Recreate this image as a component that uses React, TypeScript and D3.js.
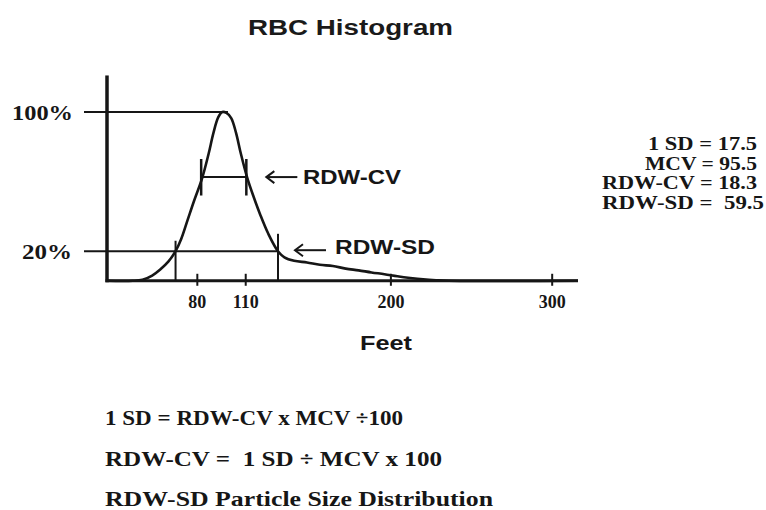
import React, { useEffect, useRef } from 'react';
import * as d3 from 'd3';

// histogram curve: size (fL) vs relative height (%)
const curveSize = [24, 40, 46, 52, 57, 62, 66.5, 70, 74, 78, 83, 87, 90, 93, 95.5, 98, 101, 104, 107, 111, 115, 119, 124, 130, 134, 140, 148, 156, 164, 172, 180, 188, 196, 204, 212, 220, 228, 236, 316];
const curvePct = [3, 3, 3.6, 6, 9.5, 14, 20, 27, 38, 49, 62, 76, 88, 97, 100, 99.5, 96.5, 88, 76, 62, 51, 41, 30, 20, 16.5, 14.5, 13.5, 12.2, 11.5, 10, 9, 7.8, 6.8, 5.6, 4.6, 3.8, 3.3, 3, 3];

const xTicks = [80, 110, 200, 300];
const yTicks = [{ value: 100, label: '100%', end: 99 }, { value: 20, label: '20%', end: 130 }];

const mcv = 95.5;
const cvLevel = 62.6;
const cvLeft = 83;
const cvRight = 111;
const sdLeft = 66.5;
const sdRight = 130;

const stats = [
    { text: '1 SD = 17.5', left: 648, width: 109 },
    { text: 'MCV = 95.5', left: 645, width: 112 },
    { text: 'RDW-CV = 18.3', left: 602, width: 155 },
    { text: 'RDW-SD =\u00a0 59.5', left: 602, width: 162 },
];

const formulas = [
    { text: '1 SD = RDW-CV x MCV \u00f7100', width: 298 },
    { text: 'RDW-CV =\u00a0 1 SD \u00f7 MCV x 100', width: 337 },
    { text: 'RDW-SD Particle Size Distribution', width: 388 },
];

const SANS = '"Liberation Sans", Arial, sans-serif';
const SERIF = '"Liberation Serif", "Times New Roman", serif';

export default function App() {
    const ref = useRef<SVGSVGElement | null>(null);

    useEffect(() => {
        const width = 766;
        const height = 510;
        const svg = d3.select(ref.current);
        svg.selectAll('*').remove();
        svg.attr('width', width).attr('height', height);

        svg.append('rect').attr('width', width).attr('height', height).attr('fill', '#fff');

        const x = d3.scaleLinear().domain([24, 316]).range([107, 578]);
        const y = d3.scaleLinear().domain([0, 100]).range([286, 112]);
        const ink = '#161616';

        // title
        svg.append('text')
            .attr('x', 248).attr('y', 35)
            .attr('textLength', 205).attr('lengthAdjust', 'spacingAndGlyphs')
            .style('font-family', SANS).style('font-weight', 'bold').style('font-size', '22px')
            .attr('fill', '#1a1a1a')
            .text('RBC Histogram');

        const g = svg.append('g');

        // y reference lines (100%, 20%)
        yTicks.forEach(t => {
            g.append('line')
                .attr('x1', x(24) - 23).attr('x2', x(t.end))
                .attr('y1', y(t.value)).attr('y2', y(t.value))
                .attr('stroke', ink).attr('stroke-width', 2);
            g.append('text')
                .attr('x', t.value === 100 ? 12 : 22).attr('y', y(t.value) + 8)
                .attr('textLength', t.value === 100 ? 61 : 50).attr('lengthAdjust', 'spacingAndGlyphs')
                .style('font-family', SERIF).style('font-weight', 'bold').style('font-size', '22px')
                .attr('fill', ink)
                .text(t.label);
        });

        // the curve
        const pts: [number, number][] = curveSize.map((s, i) => [s, curvePct[i]]);
        g.append('path')
            .datum(pts)
            .attr('fill', 'none')
            .attr('stroke', ink)
            .attr('stroke-width', 2.6)
            .attr('stroke-linejoin', 'round')
            .attr('d', d3.line<[number, number]>()
                .curve(d3.curveCatmullRom.alpha(0.5))
                .x(d => x(d[0]))
                .y(d => y(d[1])));

        // axes
        g.append('line')
            .attr('x1', x(24)).attr('x2', x(24))
            .attr('y1', y(121)).attr('y2', y(3) + 1.5)
            .attr('stroke', ink).attr('stroke-width', 3.5);
        g.append('line')
            .attr('x1', x(24) - 1.5).attr('x2', x(316))
            .attr('y1', y(3)).attr('y2', y(3))
            .attr('stroke', ink).attr('stroke-width', 3);

        xTicks.forEach(v => {
            g.append('line')
                .attr('x1', x(v)).attr('x2', x(v))
                .attr('y1', y(3) - 7).attr('y2', y(3) + 5)
                .attr('stroke', ink).attr('stroke-width', 2);
            g.append('text')
                .attr('x', x(v)).attr('y', 308)
                .attr('text-anchor', 'middle')
                .style('font-family', SERIF).style('font-weight', 'bold').style('font-size', '18px')
                .attr('fill', ink)
                .text(String(v));
        });

        // RDW-SD verticals at 20%
        [sdLeft, sdRight].forEach((v, i) => {
            g.append('line')
                .attr('x1', x(v)).attr('x2', x(v))
                .attr('y1', y(i === 0 ? 26 : 30)).attr('y2', y(3))
                .attr('stroke', ink).attr('stroke-width', 2);
        });

        // RDW-CV width line and its marks
        g.append('line')
            .attr('x1', x(cvLeft)).attr('x2', x(cvRight))
            .attr('y1', y(cvLevel)).attr('y2', y(cvLevel))
            .attr('stroke', ink).attr('stroke-width', 2);
        [cvLeft, cvRight].forEach(v => {
            g.append('line')
                .attr('x1', x(v) - 1).attr('x2', x(v) - 1)
                .attr('y1', y(73)).attr('y2', y(52))
                .attr('stroke', ink).attr('stroke-width', 2.5);
        });

        // arrows + labels
        const arrow = (x1: number, x2: number, yy: number) => {
            g.append('line').attr('x1', x1).attr('x2', x2).attr('y1', yy).attr('y2', yy)
                .attr('stroke', ink).attr('stroke-width', 2);
            g.append('path')
                .attr('d', `M${x1 + 8},${yy - 6} L${x1},${yy} L${x1 + 8},${yy + 6}`)
                .attr('fill', 'none').attr('stroke', ink).attr('stroke-width', 2);
        };
        arrow(x(mcv) + 44, x(mcv) + 75, y(cvLevel));
        g.append('text')
            .attr('x', 303).attr('y', 184)
            .attr('textLength', 98).attr('lengthAdjust', 'spacingAndGlyphs')
            .style('font-family', SANS).style('font-weight', 'bold').style('font-size', '21px')
            .attr('fill', ink).text('RDW-CV');
        arrow(x(sdRight) + 17, x(sdRight) + 48, y(20) - 1);
        g.append('text')
            .attr('x', 335).attr('y', 254)
            .attr('textLength', 100).attr('lengthAdjust', 'spacingAndGlyphs')
            .style('font-family', SANS).style('font-weight', 'bold').style('font-size', '21px')
            .attr('fill', ink).text('RDW-SD');

        // x axis title
        svg.append('text')
            .attr('x', 360).attr('y', 350)
            .attr('textLength', 52).attr('lengthAdjust', 'spacingAndGlyphs')
            .style('font-family', SANS).style('font-weight', 'bold').style('font-size', '21px')
            .attr('fill', ink).text('Feet');

        // stats at right
        stats.forEach((s, i) => {
            svg.append('text')
                .attr('x', s.left).attr('y', 150 + i * 19.7)
                .attr('textLength', s.width).attr('lengthAdjust', 'spacingAndGlyphs')
                .style('font-family', SERIF).style('font-weight', 'bold').style('font-size', '19px')
                .attr('fill', ink).text(s.text);
        });

        // formulas at bottom
        formulas.forEach((f, i) => {
            svg.append('text')
                .attr('x', 105).attr('y', 425 + i * 40.5)
                .attr('textLength', f.width).attr('lengthAdjust', 'spacingAndGlyphs')
                .style('font-family', SERIF).style('font-weight', 'bold').style('font-size', '21px')
                .attr('fill', ink).text(f.text);
        });
    }, []);

    return (
        <div style={{ position: 'absolute', left: 0, top: 0 }}>
            <svg ref={ref} style={{ display: 'block' }} />
        </div>
    );
}
